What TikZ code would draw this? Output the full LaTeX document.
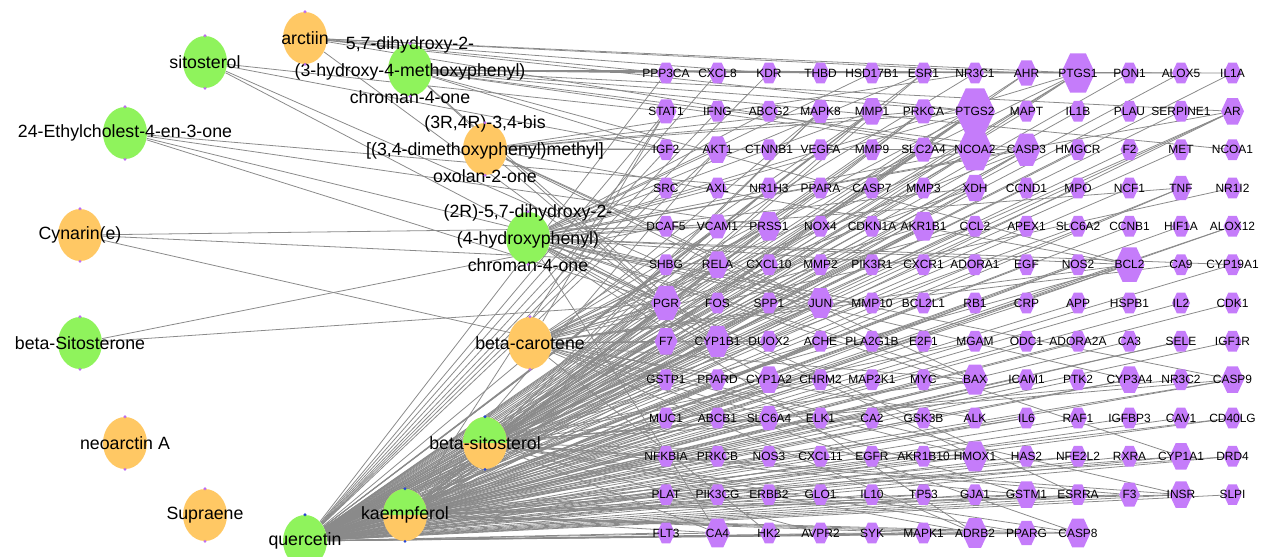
\documentclass[tikz,border=0pt]{standalone}
\usepackage{fontspec}
\setmainfont{Liberation Sans}
\usetikzlibrary{shapes.geometric,shapes.symbols,backgrounds}
\definecolor{herbgreen}{RGB}{143,243,92}
\definecolor{herborange}{RGB}{255,200,100}
\definecolor{targetpurple}{RGB}{197,124,250}
\definecolor{edgegray}{RGB}{138,138,138}
\definecolor{dotpurple}{RGB}{190,110,240}
\definecolor{dotblue}{RGB}{40,70,210}
\tikzset{%
	ingr/.style     = {ellipse, inner sep=0pt, minimum width=0.88cm, minimum height=1.04cm, fill=#1},
	halfhalf/.style = {ingr=herborange, path picture={\fill[herbgreen] (path picture bounding box.west) rectangle (path picture bounding box.north east);}},
	ilbl/.style     = {font=\fontsize{10.1}{15.3}\selectfont, align=center, inner sep=0pt},
	tgt/.style      = {signal, signal to=west and east, signal pointer angle=130, inner sep=0pt, minimum width=#1*0.02cm, minimum height=#1*0.023cm, fill=targetpurple},
	tlbl/.style     = {font=\fontsize{6.8}{8}\selectfont, inner sep=0pt},
	link/.style     = {draw=edgegray, line width=0.45pt},
}

\begin{document}
\begin{tikzpicture}[x=0.02cm,y=-0.02cm]
	\useasboundingbox (0,0) rectangle (1263,556);
	
	\node[ingr=herborange, label={[ilbl]center:arctiin}] (arctiin) at (305,38) {};
	\node[ingr=herbgreen, label={[ilbl]center:sitosterol}] (sitosterol) at (205,62) {};
	\node[ingr=herbgreen, label={[ilbl]center:{5,7-dihydroxy-2-\\(3-hydroxy-4-methoxyphenyl)\\chroman-4-one}}] (hesperetin) at (410,70) {};
	\node[ingr=herbgreen, label={[ilbl]center:24-Ethylcholest-4-en-3-one}] (ethylchol) at (125,133) {};
	\node[ingr=herborange, label={[ilbl]center:{(3R,4R)-3,4-bis\\{[(3,4-dimethoxyphenyl)methyl]}\\oxolan-2-one}}] (dimethyl) at (485,149) {};
	\node[ingr=herborange, label={[ilbl]center:Cynarin(e)}] (cynarin) at (80,235) {};
	\node[ingr=herbgreen, label={[ilbl]center:{(2R)-5,7-dihydroxy-2-\\(4-hydroxyphenyl)\\chroman-4-one}}] (naringenin) at (528,238) {};
	\node[ingr=herbgreen, label={[ilbl]center:beta-Sitosterone}] (bsitosterone) at (80,343) {};
	\node[ingr=herborange, label={[ilbl]center:beta-carotene}] (bcarotene) at (530,343) {};
	\node[ingr=herborange, label={[ilbl]center:neoarctin A}] (neoarctin) at (125,443) {};
	\node[halfhalf, label={[ilbl]center:beta-sitosterol}] (bsitosterol) at (485,443) {};
	\node[ingr=herborange, label={[ilbl]center:Supraene}] (supraene) at (205,515) {};
	\node[halfhalf, label={[ilbl]center:kaempferol}] (kaempferol) at (405,515) {};
	\node[ingr=herbgreen, label={[ilbl]center:quercetin}] (quercetin) at (305,541) {};
	
	\foreach \n in {arctiin,sitosterol,hesperetin,ethylchol,dimethyl,cynarin,naringenin,bsitosterone,bcarotene,neoarctin,supraene} {\fill[dotpurple] (\n.north) circle (1.6); \fill[dotpurple] (\n.south) circle (1.6);}
	\foreach \n in {bsitosterol,kaempferol,quercetin} {\fill[dotblue] (\n.north) circle (1.6); \fill[dotblue] (\n.south) circle (1.6);}
	
	\foreach \row [count=\j from 0] in {%
		{PPP3CA/18,CXCL8/18,KDR/18,THBD/18,HSD17B1/18,ESR1/18,NR3C1/18,AHR/22,PTGS1/34,PON1/18,ALOX5/18,IL1A/18},
		{STAT1/21,IFNG/18,ABCG2/18,MAPK8/20,MMP1/23,PRKCA/21,PTGS2/40,MAPT/18,IL1B/18,PLAU/18,SERPINE1/18,AR/23},
		{IGF2/18,AKT1/23,CTNNB1/18,VEGFA/18,MMP9/18,SLC2A4/21,NCOA2/36,CASP3/28,HMGCR/18,F2/18,MET/18,NCOA1/18},
		{SRC/18,AXL/18,NR1H3/18,PPARA/18,CASP7/18,MMP3/18,XDH/23,CCND1/18,MPO/18,NCF1/18,TNF/21,NR1I2/18},
		{DCAF5/18,VCAM1/21,PRSS1/25,NOX4/18,CDKN1A/18,AKR1B1/25,CCL2/18,APEX1/18,SLC6A2/18,CCNB1/18,HIF1A/18,ALOX12/18},
		{SHBG/18,RELA/23,CXCL10/18,MMP2/18,PIK3R1/18,CXCR1/18,ADORA1/18,EGF/18,NOS2/18,BCL2/30,CA9/18,CYP19A1/18},
		{PGR/30,FOS/18,SPP1/18,JUN/26,MMP10/18,BCL2L1/18,RB1/18,CRP/18,APP/18,HSPB1/18,IL2/18,CDK1/18},
		{F7/23,CYP1B1/27,DUOX2/18,ACHE/18,PLA2G1B/18,E2F1/18,MGAM/18,ODC1/18,ADORA2A/18,CA3/18,SELE/18,IGF1R/18},
		{GSTP1/18,PPARD/18,CYP1A2/23,CHRM2/18,MAP2K1/18,MYC/18,BAX/26,ICAM1/18,PTK2/18,CYP3A4/23,NR3C2/18,CASP9/23},
		{MUC1/18,ABCB1/18,SLC6A4/21,ELK1/18,CA2/18,GSK3B/18,ALK/18,IL6/18,RAF1/18,IGFBP3/18,CAV1/18,CD40LG/18},
		{NFKBIA/18,PRKCB/18,NOS3/18,CXCL11/18,EGFR/18,AKR1B10/18,HMOX1/26,HAS2/18,NFE2L2/18,RXRA/18,CYP1A1/23,DRD4/18},
		{PLAT/18,PIK3CG/18,ERBB2/18,GLO1/18,IL10/18,TP53/18,GJA1/18,GSTM1/23,ESRRA/18,F3/21,INSR/23,SLPI/18},
		{FLT3/18,CA4/25,HK2/18,AVPR2/18,SYK/18,MAPK1/18,ADRB2/26,PPARG/21,CASP8/25}}
		\foreach \g/\s [count=\i from 0] in \row
			\node[tgt=\s, label={[tlbl]center:\g}] (\g) at ({666+51.5*\i},{73+38.33*\j}) {};
	
	\begin{scope}[on background layer]
		\foreach \t in {PPP3CA,CXCL8,KDR,ESR1,AHR,PTGS1,PON1,ALOX5,IL1A,STAT1,IFNG,MAPK8,MMP1,PRKCA,PTGS2,MAPT,IL1B,PLAU,SERPINE1,AR,
			IGF2,AKT1,VEGFA,MMP9,SLC2A4,NCOA2,CASP3,HMGCR,F2,MET,SRC,PPARA,CASP7,MMP3,XDH,CCND1,MPO,NCF1,TNF,
			VCAM1,PRSS1,NOX4,CDKN1A,AKR1B1,CCL2,APEX1,CCNB1,HIF1A,ALOX12,RELA,CXCL10,MMP2,PIK3R1,ADORA1,EGF,NOS2,BCL2,CYP19A1,
			PGR,FOS,SPP1,JUN,BCL2L1,RB1,CRP,APP,HSPB1,IL2,CDK1,F7,CYP1B1,ACHE,E2F1,ODC1,ADORA2A,SELE,IGF1R,
			GSTP1,PPARD,CYP1A2,CHRM2,MAP2K1,MYC,BAX,ICAM1,PTK2,CYP3A4,CASP9,MUC1,ABCB1,SLC6A4,ELK1,GSK3B,IL6,RAF1,IGFBP3,CAV1,CD40LG,
			NFKBIA,PRKCB,NOS3,CXCL11,EGFR,AKR1B10,HMOX1,HAS2,NFE2L2,RXRA,CYP1A1,DRD4,PLAT,PIK3CG,ERBB2,IL10,TP53,GJA1,GSTM1,ESRRA,F3,INSR,SLPI,
			FLT3,CA4,SYK,MAPK1,ADRB2,PPARG,CASP8}
			\draw[link] (quercetin) -- (\t);
		\foreach \t in {CA3,CA2,GLO1,PTGS1,PTGS2,NCOA2,CASP3,PGR,BCL2,JUN,CYP1B1,BAX,HMOX1,ADRB2,CASP8,CA4,AHR,AKT1,MMP1,AR,XDH,PRSS1,AKR1B1,RELA,F7,
			CYP1A2,CYP3A4,CASP9,GSTM1,INSR,CYP1A1,STAT1,MAPK8,PRKCA,SLC2A4,TNF,VCAM1,SLC6A4,F3,PPARG,ESR1,CHRM2,ACHE,NOS2,SELE,ICAM1,IL6,NFE2L2,TP53,MAPK1,ABCB1,ALOX12,DRD4,CD40LG}
			\draw[link] (kaempferol) -- (\t);
		\foreach \t in {NR1H3,SLC6A2,MGAM,NR3C2,CA2,AVPR2,PTGS1,PTGS2,NCOA2,CASP3,PGR,BCL2,JUN,CYP1B1,BAX,HMOX1,ADRB2,CASP8,CA4,AR,PRSS1,AKR1B1,RELA,F7,
			CASP9,INSR,CHRM2,ACHE,SLC6A4,PRKCA,MAPK8,SLC2A4,PPARG,F3,GSTM1}
			\draw[link] (bsitosterol) -- (\t);
		\foreach \t in {NR3C1,NR1I2,CA9,DUOX2,ALK,HK2,PTGS1,PTGS2,NCOA2,PGR,BCL2,JUN,CASP3,BAX,HMOX1,ADRB2,CASP8,MMP1,RELA,XDH,PRSS1,AKR1B1,F7,CYP1B1,GSTM1,INSR,STAT1,CCL2}
			\draw[link] (bcarotene) -- (\t);
		\foreach \t in {HSD17B1,ABCG2,AXL,CXCR1,MMP10,ESR1,PTGS1,PTGS2,NCOA2,CASP3,PGR,BCL2,JUN,CYP1B1,BAX,HMOX1,ADRB2,AKT1,MMP1,XDH,AR,CYP19A1,CYP1A2,CYP3A4,CYP1A1,ESRRA,CASP9,CA4,TNF,VCAM1}
			\draw[link] (naringenin) -- (\t);
		\foreach \t in {PPP3CA,THBD,HSD17B1,ESR1,AHR,PTGS1,PON1,ALOX5,IL1A,PTGS2,AR,NCOA2,NCOA1,CASP3,PGR,BCL2,CYP1B1,IGF2}
			\draw[link] (hesperetin) -- (\t);
		\foreach \t in {NR3C1,MAPK8,PTGS2,NCOA2,CTNNB1,PLA2G1B,CASP3,PGR,BCL2,JUN,BAX,PRKCA,AKT1}
			\draw[link] (dimethyl) -- (\t);
		\foreach \t in {PPP3CA,KDR,AHR,PTGS1,PTGS2,NCOA2,PGR} \draw[link] (arctiin) -- (\t);
		\foreach \t in {STAT1,IGF2,PGR,SHBG} \draw[link] (sitosterol) -- (\t);
		\foreach \t in {NR1H3,PRSS1,SHBG,PGR} \draw[link] (ethylchol) -- (\t);
		\foreach \t in {PRSS1,RELA,PPARD} \draw[link] (cynarin) -- (\t);
		\foreach \t in {DCAF5,PGR} \draw[link] (bsitosterone) -- (\t);
	\end{scope}
\end{tikzpicture}
\end{document}
